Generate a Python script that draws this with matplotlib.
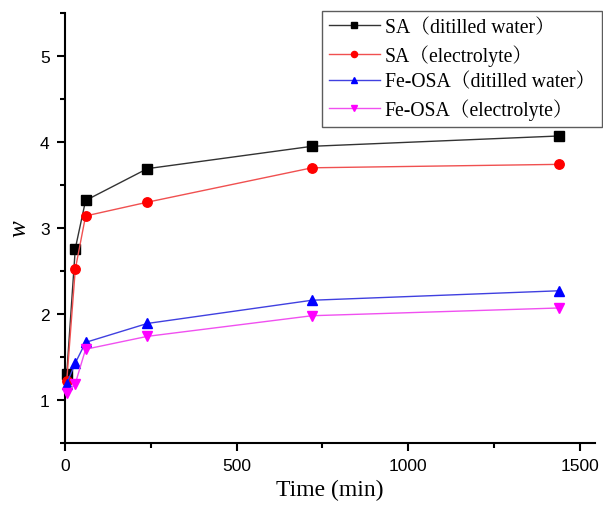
import matplotlib
matplotlib.use("Agg")
import matplotlib.pyplot as plt
from matplotlib.ticker import MultipleLocator

time_min = [5, 30, 60, 240, 720, 1440]
sa_water = [1.30, 2.76, 3.32, 3.69, 3.95, 4.07]
sa_electrolyte = [1.22, 2.52, 3.14, 3.30, 3.70, 3.74]
feosa_water = [1.19, 1.43, 1.67, 1.89, 2.16, 2.27]
feosa_electrolyte = [1.08, 1.19, 1.59, 1.74, 1.98, 2.07]

labels = ["SA（ditilled water）", "SA（electrolyte）",
          "Fe-OSA（ditilled water）", "Fe-OSA（electrolyte）"]
colors = ["#000000", "#ff0000", "#0000ff", "#ff00ff"]
line_colors = ["#333333", "#f05050", "#4040e0", "#f050f0"]
markers = ["s", "o", "^", "v"]
series = [sa_water, sa_electrolyte, feosa_water, feosa_electrolyte]

serif = ["Liberation Serif", "Noto Serif CJK SC", "Noto Sans CJK SC", "DejaVu Serif"]
sans = ["Liberation Sans", "DejaVu Sans"]

fig = plt.figure(figsize=(6.03, 5.06), dpi=100)
ax = fig.add_axes([65/603, (506-444)/506, (595-65)/603, (444-14)/506])

for ys, lab, c, lc, m in zip(series, labels, colors, line_colors, markers):
    ax.plot(time_min, ys, color=lc, lw=1.0, marker=m, markersize=6.8,
            markerfacecolor=c, markeredgecolor=c, label=lab, clip_on=False, zorder=3)

ax.set_xlim(0, 1545)
ax.set_ylim(0.5, 5.5)
ax.xaxis.set_major_locator(MultipleLocator(500))
ax.xaxis.set_minor_locator(MultipleLocator(250))
ax.yaxis.set_major_locator(MultipleLocator(1))
ax.yaxis.set_minor_locator(MultipleLocator(0.5))
ax.spines["top"].set_visible(False)
ax.spines["right"].set_visible(False)
for s in ["left", "bottom"]:
    ax.spines[s].set_linewidth(1.5)
ax.tick_params(which="major", direction="out", length=6, width=1.5, labelsize=12.5, pad=5)
ax.tick_params(which="minor", direction="out", length=3.5, width=1.5)
for t in ax.get_xticklabels() + ax.get_yticklabels():
    t.set_family(sans)

ax.set_xlabel("Time (min)", family=serif, fontsize=17, labelpad=4)
ax.set_ylabel("w", family=serif, fontsize=18, style="italic", labelpad=7)

leg = ax.legend(loc="upper right", bbox_to_anchor=(602/603, 1 - 12/506),
                bbox_transform=fig.transFigure,
                prop={"family": serif, "size": 14.2}, frameon=True, fancybox=False,
                edgecolor="#333333", handlelength=2.6, markerscale=0.65,
                labelspacing=0.35, borderpad=0.35, handletextpad=0.25, borderaxespad=0)
leg.get_frame().set_linewidth(1.0)

fig.savefig("out.png", dpi=100)
